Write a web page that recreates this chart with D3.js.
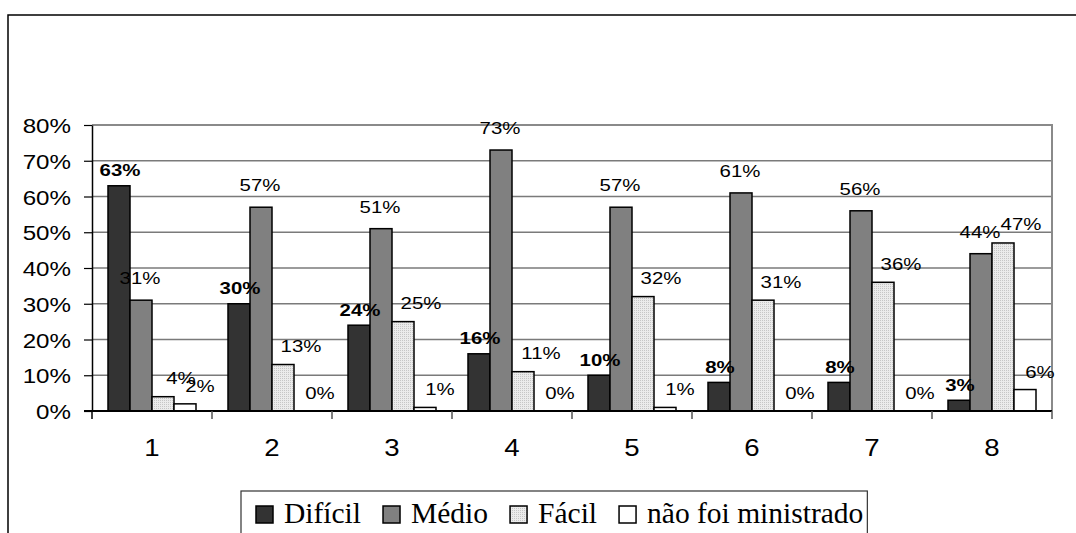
<!DOCTYPE html>
<html>
<head>
<meta charset="utf-8">
<script src="https://cdn.jsdelivr.net/npm/d3@7"></script>
<style>
  html, body { margin: 0; padding: 0; background: #fff; }
  svg { display: block; }
</style>
</head>
<body>
<svg id="chart" width="1076" height="533"></svg>
<script>
// ---- data ----
const categories = ["1", "2", "3", "4", "5", "6", "7", "8"];
const seriesNames = ["Difícil", "Médio", "Fácil", "não foi ministrado"];
const dificil = [0.63, 0.30, 0.24, 0.16, 0.10, 0.08, 0.08, 0.03];
const medio   = [0.31, 0.57, 0.51, 0.73, 0.57, 0.61, 0.56, 0.44];
const facil   = [0.04, 0.13, 0.25, 0.11, 0.32, 0.31, 0.36, 0.47];
const naoMin  = [0.02, 0.00, 0.01, 0.00, 0.01, 0.00, 0.00, 0.06];
const yTicks  = [0, 0.1, 0.2, 0.3, 0.4, 0.5, 0.6, 0.7, 0.8];

const seriesValues = [dificil, medio, facil, naoMin];

// ---- styling / layout ----
const SANS = '"Liberation Sans"';
const SERIF = '"Liberation Serif"';
const plot = { left: 92, right: 1052, top: 125, bottom: 411 };
const fills = ["#333333", "#808080", "url(#dots)", "#ffffff"];
// label offsets per series (horizontal shift, gap above bar)
const labelStyle = [
  { dx: 1,  gap: 9.5, bold: true },
  { dx: -1, gap: 16,  bold: false },
  { dx: 18, gap: 12.5, bold: false },
  { dx: 15, gap: 12,  bold: false }
];

const svg = d3.select("#chart");

// pattern for "Fácil"
const defs = svg.append("defs");
const pat = defs.append("pattern").attr("id", "dots")
  .attr("width", 2).attr("height", 2).attr("patternUnits", "userSpaceOnUse");
pat.append("rect").attr("width", 2).attr("height", 2).attr("fill", "#ebebeb");
pat.append("rect").attr("width", 1).attr("height", 1).attr("fill", "#c6c6c6");

// outer frame (extends beyond view)
svg.append("rect")
  .attr("x", 8).attr("y", 15).attr("width", 1200).attr("height", 700)
  .attr("fill", "none").attr("stroke", "#000").attr("stroke-width", 1.5);

const x = d3.scaleBand().domain(categories).range([plot.left, plot.right]).padding(0);
const xInner = d3.scaleBand().domain(seriesNames).range([16, x.bandwidth() - 16]).padding(0);
const y = d3.scaleLinear().domain([0, 0.8]).range([plot.bottom, plot.top]);

// gridlines
svg.append("g").selectAll("line")
  .data(yTicks.filter(t => t > 0 && t < 0.8))
  .join("line")
  .attr("x1", plot.left).attr("x2", plot.right)
  .attr("y1", d => y(d)).attr("y2", d => y(d))
  .attr("stroke", "#7a7a7a").attr("stroke-width", 1.5);

// plot area top & right border (gray)
svg.append("path")
  .attr("d", `M${plot.left},${y(0.8)} H${plot.right} V${plot.bottom}`)
  .attr("fill", "none").attr("stroke", "#8a8a8a").attr("stroke-width", 2);

// bars
const groups = svg.append("g").selectAll("g")
  .data(categories)
  .join("g")
  .attr("transform", d => `translate(${x(d)},0)`);

groups.each(function(cat, ci) {
  const g = d3.select(this);
  seriesNames.forEach((s, si) => {
    const v = seriesValues[si][ci];
    g.append("rect")
      .attr("x", xInner(s))
      .attr("width", xInner.bandwidth())
      .attr("y", y(v))
      .attr("height", y(0) - y(v))
      .attr("fill", fills[si])
      .attr("stroke", "#000")
      .attr("stroke-width", 1.5);
  });
});

// y axis
const yAxis = svg.append("g")
  .attr("transform", `translate(${plot.left},0)`)
  .call(d3.axisLeft(y).tickValues(yTicks).tickFormat(d3.format(".0%")).tickSize(8).tickSizeOuter(0));
yAxis.attr("font-family", null).attr("font-size", null);
yAxis.select(".domain").attr("stroke", "#000").attr("stroke-width", 1.5);
yAxis.selectAll(".tick line").attr("stroke", "#000").attr("stroke-width", 1.2);
yAxis.selectAll(".tick text")
  .attr("x", null).attr("dy", null)
  .attr("transform", "translate(-21,7.5) scale(1.15,1)")
  .attr("text-anchor", "end")
  .style("font-family", SANS)
  .style("font-size", "21px")
  .attr("fill", "#000");
// extend y axis line slightly below baseline
svg.append("line")
  .attr("x1", plot.left).attr("x2", plot.left)
  .attr("y1", plot.bottom).attr("y2", plot.bottom + 8)
  .attr("stroke", "#000").attr("stroke-width", 1.5);

// x axis
const xAxisG = svg.append("g").attr("transform", `translate(0,${plot.bottom})`);
xAxisG.append("line")
  .attr("x1", plot.left - 8).attr("x2", plot.right)
  .attr("stroke", "#000").attr("stroke-width", 2);
xAxisG.selectAll("line.tk")
  .data(categories)
  .join("line").attr("class", "tk")
  .attr("x1", d => x(d) + x.bandwidth())
  .attr("x2", d => x(d) + x.bandwidth())
  .attr("y1", 0).attr("y2", 8)
  .attr("stroke", "#555").attr("stroke-width", 1.5);
xAxisG.selectAll("text")
  .data(categories)
  .join("text")
  .attr("transform", d => `translate(${x(d) + x.bandwidth() / 2},${45}) scale(1.2,1)`)
  .attr("text-anchor", "middle")
  .style("font-family", SANS)
  .style("font-size", "23px")
  .attr("fill", "#000")
  .text(d => d);

// data labels
const fmt = d3.format(".0%");
groups.each(function(cat, ci) {
  const g = d3.select(this);
  seriesNames.forEach((s, si) => {
    const v = seriesValues[si][ci];
    const st = labelStyle[si];
    const cx = xInner(s) + xInner.bandwidth() / 2 + st.dx;
    const by = y(v) - st.gap;
    g.append("text")
      .attr("transform", `translate(${cx},${by}) scale(1.2,1)`)
      .attr("text-anchor", "middle")
      .style("font-family", SANS)
      .style("font-size", "17px")
      .style("font-weight", st.bold ? "bold" : "normal")
      .attr("fill", "#000")
      .text(fmt(v));
  });
});

// legend
const lg = svg.append("g");
const lgBox = lg.append("rect")
  .attr("x", 241).attr("y", 491).attr("height", 80)
  .attr("fill", "#fff").attr("stroke", "#333").attr("stroke-width", 1.2);
let cursor = 256;
let lastEnd = cursor;
seriesNames.forEach((s, si) => {
  lg.append("rect")
    .attr("x", cursor).attr("y", 506).attr("width", 17).attr("height", 17)
    .attr("fill", fills[si]).attr("stroke", "#000").attr("stroke-width", 1.5);
  const t = lg.append("text")
    .attr("x", cursor + 28).attr("y", 523)
    .style("font-family", SERIF)
    .style("font-size", "29.5px")
    .attr("fill", "#000")
    .text(s);
  lastEnd = cursor + 28 + t.node().getComputedTextLength();
  cursor = lastEnd + 22;
});
lgBox.attr("width", lastEnd + 4 - 241);
</script>
</body>
</html>
